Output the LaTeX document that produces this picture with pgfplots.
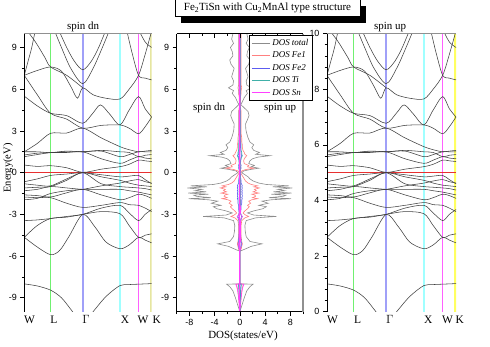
\documentclass[border=0pt]{standalone}
\usepackage{fontspec}
\setmainfont{Liberation Serif}
\newfontfamily\sansf{Liberation Sans}
\usepackage{pgfplots}
\usepackage{pgfplotstable}
\pgfplotsset{compat=1.18}

\definecolor{bandc}{HTML}{404040}
\definecolor{lgreen}{HTML}{70F070}
\definecolor{gblue}{HTML}{A0A0F8}
\definecolor{xcyan}{HTML}{A0FFFF}
\definecolor{wmag}{HTML}{FF60FF}
\definecolor{kkhaki}{HTML}{E6E6A0}
\definecolor{kyellow}{HTML}{FFFF60}
\definecolor{fermi}{HTML}{E83030}
\definecolor{topgrey}{HTML}{909090}
\definecolor{dtot}{HTML}{8C8C8C}
\definecolor{dfe1}{HTML}{FF8080}
\definecolor{dfe2}{HTML}{5C5CF0}
\definecolor{dti}{HTML}{40B0A8}
\definecolor{dsn}{HTML}{FF40FF}

% DOS, spin up side (spin dn is the mirror image)
\pgfplotstableread{
E      tot  fe1  fe2  ti   sn
-10.0  0.0  0.0  0.0  0.0  0.0
-9.5   0.35 0.1  0.05 0.05 0.1
-9.0   0.7  0.2  0.1  0.1  0.2
-8.5   1.1  0.3  0.1  0.15 0.35
-8.2   1.6  0.45 0.15 0.2  0.5
-8.02  2.1  0.55 0.2  0.25 0.65
-8.0   0.0  0.0  0.0  0.0  0.0
-5.65  0.0  0.0  0.0  0.0  0.0
-5.5   0.8  0.2  0.1  0.1  0.1
-5.3   1.8  0.3  0.2  0.15 0.15
-5.12  3.5  0.4  0.3  0.2  0.2
-4.95  1.6  0.3  0.2  0.15 0.1
-4.6   1.0  0.2  0.15 0.1  0.1
-4.2   0.85 0.2  0.1  0.1  0.1
-3.8   0.8  0.2  0.1  0.1  0.1
-3.45  1.0  0.3  0.1  0.15 0.1
-3.25  2.5  0.8  0.2  0.3  0.25
-3.15  5.8  1.4  0.3  0.4  0.4
-3.05  2.2  0.9  0.2  0.2  0.2
-2.9   1.2  0.5  0.1  0.1  0.1
-2.75  2.2  0.8  0.15 0.1  0.1
-2.6   3.6  1.2  0.2  0.1  0.1
-2.45  4.2  1.5  0.2  0.1  0.1
-2.35  3.0  1.2  0.2  0.1  0.05
-2.2   4.5  1.7  0.3  0.1  0.05
-2.05  3.5  1.4  0.3  0.1  0.05
-1.95  5.0  1.9  0.3  0.1  0.05
-1.87  8.1  2.8  0.4  0.15 0.05
-1.8   4.6  2.0  0.3  0.1  0.05
-1.7   6.9  2.5  0.4  0.1  0.05
-1.62  7.3  2.4  0.4  0.1  0.05
-1.55  5.0  1.9  0.3  0.1  0.05
-1.47  8.2  3.0  0.4  0.1  0.05
-1.38  5.3  2.1  0.3  0.1  0.05
-1.3   7.1  2.6  0.4  0.1  0.05
-1.2   6.0  2.3  0.3  0.1  0.05
-1.1   8.3  3.1  0.4  0.1  0.05
-1.02  5.2  2.2  0.3  0.1  0.05
-0.95  7.8  2.8  0.4  0.1  0.05
-0.85  4.2  1.8  0.3  0.1  0.05
-0.75  3.0  1.3  0.2  0.1  0.05
-0.6   2.1  0.9  0.2  0.1  0.05
-0.45  1.6  0.7  0.15 0.1  0.05
-0.3   1.3  0.5  0.1  0.1  0.05
-0.15  0.8  0.3  0.1  0.05 0.05
0.0    0.3  0.1  0.05 0.05 0.02
0.12   0.6  0.3  0.1  0.05 0.02
0.22   1.6  0.9  0.1  0.1  0.02
0.32   3.0  2.2  0.2  0.1  0.05
0.42   1.8  1.2  0.15 0.1  0.05
0.52   2.3  1.4  0.2  0.15 0.05
0.65   1.4  0.7  0.1  0.1  0.05
0.85   1.6  0.6  0.1  0.15 0.05
1.0    2.0  0.7  0.15 0.2  0.05
1.12   2.9  0.9  0.2  0.3  0.05
1.22   4.8  1.1  0.3  0.4  0.05
1.32   2.5  0.8  0.2  0.3  0.05
1.45   3.1  0.7  0.2  0.3  0.05
1.6    2.2  0.5  0.15 0.2  0.05
1.8    1.9  0.4  0.1  0.2  0.05
2.0    2.2  0.4  0.1  0.2  0.05
2.2    1.6  0.3  0.1  0.15 0.05
2.5    1.3  0.3  0.1  0.1  0.05
2.8    1.1  0.2  0.1  0.1  0.05
3.1    0.95 0.2  0.1  0.1  0.05
3.5    0.9  0.2  0.1  0.1  0.05
3.8    1.2  0.2  0.1  0.1  0.05
4.1    1.45 0.2  0.1  0.1  0.05
4.4    1.3  0.2  0.1  0.1  0.05
4.7    0.6  0.1  0.05 0.05 0.05
4.9    0.15 0.05 0.05 0.05 0.02
5.1    0.4  0.1  0.05 0.05 0.05
5.4    0.7  0.1  0.05 0.05 0.05
5.7    1.2  0.2  0.1  0.1  0.05
5.9    1.0  0.2  0.1  0.1  0.05
6.1    1.8  0.3  0.1  0.1  0.05
6.3    1.1  0.2  0.1  0.1  0.05
6.6    1.0  0.2  0.1  0.1  0.05
6.9    1.3  0.2  0.1  0.1  0.05
7.2    1.1  0.2  0.1  0.1  0.05
7.5    0.9  0.2  0.1  0.1  0.05
7.8    1.4  0.2  0.1  0.1  0.05
8.1    1.6  0.2  0.1  0.1  0.05
8.4    1.1  0.2  0.1  0.1  0.05
8.7    1.2  0.2  0.1  0.1  0.05
9.0    1.5  0.2  0.1  0.1  0.05
9.3    1.0  0.2  0.1  0.1  0.05
9.6    1.3  0.2  0.1  0.1  0.05
10.0   1.1  0.2  0.1  0.1  0.05
}\dostab

\pgfplotsset{
  band/.style={color=bandc, line width=0.55pt, smooth},
  every axis/.append style={
    scale only axis, anchor=south west, ymin=-10, ymax=10,
    axis line style={draw=none}, tick align=outside,
    major tick length=4bp, minor tick length=2.5bp,
    tick style={black, line width=0.6pt},
    ticklabel style={font=\sansf\fontsize{9}{9}\selectfont},
    clip mode=individual,
  },
}

% k path: W 0, L 0.707, Gamma 1.573, X 2.573, W 3.073, K 3.427
\newcommand{\kplines}[1]{%
  \addplot[lgreen, line width=1pt] coordinates {(0.707,-10) (0.707,10)};
  \addplot[gblue, line width=2.2pt] coordinates {(1.573,-10) (1.573,10)};
  \addplot[xcyan, line width=2pt] coordinates {(2.573,-10) (2.573,10)};
  \addplot[wmag, line width=1.5pt] coordinates {(3.073,-10) (3.073,10)};
  \addplot[#1, line width=4pt] coordinates {(3.427,-10) (3.427,10)};
  \addplot[fermi, line width=1.2pt] coordinates {(0,0) (3.427,0)};
}

\newcommand{\bandplots}{%
  \addplot[band] coordinates {(0,-8.0)(0.35,-8.15)(0.707,-8.45)(1.0,-9.0)(1.3,-10.0)(1.573,-10.9)(1.85,-10.0)(2.2,-8.9)(2.573,-8.12)(2.82,-8.05)(3.073,-8.02)(3.25,-8.0)(3.427,-7.98)};
  \addplot[band] coordinates {(0,-4.65)(0.35,-5.35)(0.707,-5.9)(0.95,-5.6)(1.2,-4.6)(1.573,-3.0)(1.9,-3.9)(2.2,-5.0)(2.573,-5.47)(2.82,-5.2)(3.073,-4.65)(3.25,-4.85)(3.427,-5.05)};
  \addplot[band] coordinates {(0,-4.65)(0.35,-3.8)(0.707,-3.3)(1.14,-3.2)(1.573,-3.0)(2.07,-2.8)(2.573,-2.95)(2.82,-3.8)(3.073,-4.65)(3.25,-4.5)(3.427,-4.4)};
  \addplot[band] coordinates {(0,-3.45)(0.35,-3.4)(0.707,-3.3)(1.14,-3.15)(1.573,-3.0)(2.07,-2.55)(2.573,-2.35)(2.82,-2.9)(3.073,-3.45)(3.25,-3.0)(3.427,-2.65)};
  \addplot[band] coordinates {(0,-1.75)(0.35,-1.8)(0.707,-1.8)(1.14,-2.2)(1.573,-2.5)(2.07,-2.35)(2.573,-2.15)(2.82,-2.3)(3.073,-2.35)(3.25,-2.55)(3.427,-2.8)};
  \addplot[band] coordinates {(0,-1.6)(0.35,-1.65)(0.707,-1.75)(1.14,-1.45)(1.573,-1.2)(2.07,-1.6)(2.573,-1.95)(2.82,-1.8)(3.073,-1.55)(3.25,-1.65)(3.427,-1.85)};
  \addplot[band] coordinates {(0,-1.3)(0.35,-1.2)(0.707,-1.0)(1.14,-1.1)(1.573,-1.2)(2.07,-1.2)(2.573,-1.2)(2.82,-1.3)(3.073,-1.4)(3.25,-1.5)(3.427,-1.6)};
  \addplot[band] coordinates {(0,-1.95)(0.35,-1.85)(0.707,-1.5)(1.14,-1.3)(1.573,-1.2)(2.07,-0.95)(2.573,-0.75)(2.82,-0.6)(3.073,-0.5)(3.25,-0.65)(3.427,-0.75)};
  \addplot[band] coordinates {(0,-1.1)(0.35,-1.05)(0.707,-1.0)(1.14,-0.55)(1.573,0.0)(2.07,-0.8)(2.573,-1.0)(2.82,-1.05)(3.073,-1.1)(3.25,-1.15)(3.427,-1.25)};
  \addplot[band] coordinates {(0,-0.8)(0.35,-0.9)(0.707,-0.95)(1.14,-0.45)(1.573,0.0)(2.07,-0.3)(2.573,-0.55)(2.82,-0.75)(3.073,-0.9)(3.25,-0.95)(3.427,-1.0)};
  \addplot[band] coordinates {(0,-0.65)(0.35,-0.45)(0.707,-0.2)(1.14,-0.1)(1.573,0.0)(2.07,-0.15)(2.573,-0.3)(2.82,-0.25)(3.073,-0.2)(3.25,-0.5)(3.427,-0.8)};
  % conduction bands
  \addplot[band] coordinates {(0,0.55)(0.35,0.45)(0.707,0.5)(1.14,0.35)(1.573,0.02)(2.07,0.25)(2.573,0.43)(2.82,0.6)(3.073,0.9)(3.25,0.85)(3.427,0.8)};
  \addplot[band] coordinates {(0,1.15)(0.35,1.3)(0.707,1.44)(1.14,1.45)(1.573,1.5)(2.07,1.0)(2.573,0.67)(2.82,0.9)(3.073,1.15)(3.25,1.05)(3.427,1.0)};
  \addplot[band] coordinates {(0,1.27)(0.35,1.4)(0.707,1.44)(1.14,1.5)(1.573,1.5)(2.07,1.6)(2.573,1.5)(2.82,1.45)(3.073,1.15)(3.25,1.25)(3.427,1.3)};
  \addplot[band] coordinates {(0,1.5)(0.35,1.5)(0.707,1.44)(1.14,1.55)(1.573,1.5)(2.07,1.55)(2.573,1.15)(2.82,1.3)(3.073,1.5)(3.25,1.5)(3.427,1.5)};
  \addplot[band] coordinates {(0,1.5)(0.35,2.1)(0.707,2.83)(1.14,2.85)(1.573,3.2)(2.07,2.5)(2.573,1.87)(2.82,1.65)(3.073,1.5)(3.25,1.55)(3.427,1.6)};
  \addplot[band] coordinates {(0,5.5)(0.35,4.8)(0.707,4.27)(1.14,4.1)(1.573,3.55)(1.85,4.3)(2.05,4.87)(2.3,4.2)(2.573,3.43)(2.82,4.5)(3.073,5.47)(3.25,4.6)(3.427,4.0)};
  \addplot[band] coordinates {(0,7.0)(0.35,5.6)(0.707,4.27)(1.14,3.85)(1.573,3.2)(2.07,3.4)(2.573,3.43)(2.82,3.2)(3.073,2.8)(3.25,3.3)(3.427,4.0)};
  \addplot[band] coordinates {(0,7.0)(0.35,7.35)(0.707,7.6)(1.0,7.3)(1.25,6.2)(1.43,5.35)(1.573,6.1)(1.85,5.6)(2.2,5.35)(2.573,5.3)(2.82,6.0)(3.073,7.0)(3.25,8.5)(3.427,10.2)};
  \addplot[band] coordinates {(0.92,10.3)(1.14,9.0)(1.35,8.0)(1.573,7.4)(1.8,8.0)(2.0,9.0)(2.2,10.3)};
  \addplot[band] coordinates {(0.8,10.3)(1.0,9.0)(1.25,7.5)(1.573,6.4)(1.85,7.5)(2.1,9.0)(2.3,10.3)};
  \addplot[band] coordinates {(0,7.0)(0.1,8.0)(0.2,9.0)(0.3,10.3)};
  \addplot[band] coordinates {(0.05,10.3)(0.3,9.4)(0.55,8.3)(0.707,7.6)(1.14,7.0)(1.573,6.1)};
  \addplot[band] coordinates {(2.75,10.3)(2.9,8.6)(3.073,7.0)(3.25,6.8)(3.427,6.67)};
  \addplot[band] coordinates {(3.073,10.3)(3.25,9.4)(3.427,9.0)};
}

\begin{document}
\begin{tikzpicture}
\useasboundingbox (0,0) rectangle (490bp,347bp);
\fill[white] (0,0) rectangle (490bp,347bp);

% spin dn bands
\begin{axis}[at={(24.3bp,35.3bp)}, width=127.4bp, height=278.1bp,
  xmin=0, xmax=3.427, xtick=\empty, ytick pos=left,
  ytick={-9,-6,-3,0,3,6,9}, yticklabels={-9,-6,-3,0,3,6,9},
  minor ytick={-7.5,-4.5,-1.5,1.5,4.5,7.5}]
\kplines{kkhaki}
\bandplots
\draw[black, line width=0.8pt] (rel axis cs:0,0) -- (rel axis cs:0,1);
\draw[topgrey, line width=0.6pt] (rel axis cs:0,1) -- (rel axis cs:1,1);
\end{axis}

% DOS
\begin{axis}[at={(176.7bp,35.3bp)}, width=126.3bp, height=278.1bp,
  xmin=-10, xmax=10, xtick pos=bottom, ytick pos=left,
  xtick={-8,-4,0,4,8}, xticklabels={-8,-4,0,4,8},
  minor xtick={-10,-6,-2,2,6,10},
  ytick={-9,-6,-3,0,3,6,9}, yticklabels={-9,-6,-3,0,3,6,9},
  minor ytick={-7.5,-4.5,-1.5,1.5,4.5,7.5},
  legend style={at={(0.575,0.995)}, anchor=north west, draw=black, fill=white,
    font=\fontsize{9}{10}\selectfont\itshape, inner sep=2pt, row sep=1pt},
  legend cell align=left,
  legend image code/.code={\draw[#1, line width=0.8pt] (0bp,0bp) -- (18bp,0bp);}]
\addplot[dtot, line width=0.6pt] table[x=tot, y=E] {\dostab};
\addlegendentry{DOS total}
\addplot[dfe1, line width=0.6pt] table[x=fe1, y=E] {\dostab};
\addlegendentry{DOS Fe1}
\addplot[dfe2, line width=0.6pt] table[x=fe2, y=E] {\dostab};
\addlegendentry{DOS Fe2}
\addplot[dti, line width=0.6pt] table[x=ti, y=E] {\dostab};
\addlegendentry{DOS Ti}
\addplot[dsn, line width=0.6pt] table[x=sn, y=E] {\dostab};
\addlegendentry{DOS Sn}
\addplot[dtot, line width=0.6pt, forget plot] table[x expr=-\thisrow{tot}, y=E] {\dostab};
\addplot[dfe1, line width=0.6pt, forget plot] table[x expr=-\thisrow{fe1}, y=E] {\dostab};
\addplot[dfe2, line width=0.6pt, forget plot] table[x expr=-\thisrow{fe2}, y=E] {\dostab};
\addplot[dti, line width=0.6pt, forget plot] table[x expr=-\thisrow{ti}, y=E] {\dostab};
\addplot[dsn, line width=0.6pt, forget plot] table[x expr=-\thisrow{sn}, y=E] {\dostab};
\addplot[dsn, line width=1pt, forget plot] coordinates {(0,-10) (0,10)};
\draw[black, line width=0.8pt] (rel axis cs:0,0) -- (rel axis cs:0,1);
\draw[black, line width=0.8pt] (rel axis cs:0,0) -- (rel axis cs:1,0);
\draw[black, line width=0.8pt] (rel axis cs:0,1) -- (rel axis cs:1,1);
\draw[topgrey, line width=1.5pt] (rel axis cs:1,0) -- (rel axis cs:1,1);
\pgfplotsinvokeforeach{-8,-4,0,4,8}{\draw[black, line width=0.6pt] (axis cs:#1,10) -- ++(0bp,-4bp);}
\pgfplotsinvokeforeach{-6,-2,2,6}{\draw[black, line width=0.6pt] (axis cs:#1,10) -- ++(0bp,-2.5bp);}
\end{axis}

% spin up bands
\begin{axis}[at={(327bp,35.3bp)}, width=129bp, height=278.1bp,
  xmin=0, xmax=3.427, xtick=\empty, ytick pos=left,
  ytick={-10,-6,-2,2,6,10}, yticklabels={0,2,4,6,8,10},
  minor tick num=4]
\kplines{kyellow}
\bandplots
\draw[black, line width=0.8pt] (rel axis cs:0,0) -- (rel axis cs:0,1);
\draw[topgrey, line width=0.6pt] (rel axis cs:0,1) -- (rel axis cs:1,1);
\end{axis}

\begin{scope}[x=1bp, y=1bp]
% title box with shadow
\fill[black] (181,324) rectangle (366,341);
\filldraw[fill=white, draw=black, line width=0.6pt] (175,331) rectangle (360,348);
\node[font=\fontsize{11}{11}\selectfont] at (267.5,339) {Fe\textsubscript{2}TiSn with Cu\textsubscript{2}MnAl type structure};
\node[font=\fontsize{11}{11}\selectfont, anchor=base] at (83,317.5) {spin dn};
\node[font=\fontsize{11}{11}\selectfont, anchor=base] at (390,317.5) {spin up};
\node[font=\fontsize{11}{11}\selectfont, anchor=base] at (209,237) {spin dn};
\node[font=\fontsize{11}{11}\selectfont, anchor=base] at (280,237) {spin up};
\node[font=\fontsize{10.5}{10.5}\selectfont, rotate=90] at (8,179) {Energy(eV)};
\node[font=\fontsize{11}{11}\selectfont] at (243,11.3) {DOS(states/eV)};
% k-point labels
\foreach \x/\t in {24/W, 50.3/L, 82.3/$\Gamma$, 120.7/X, 137.5/W, 152.5/K,
                   327/W, 354/L, 386/$\Gamma$, 424/X, 442/W, 455.5/K}
  \node[font=\fontsize{11.5}{11.5}\selectfont, anchor=base west, inner sep=0pt] at (\x,24) {\t};
\end{scope}
\end{tikzpicture}
\end{document}
